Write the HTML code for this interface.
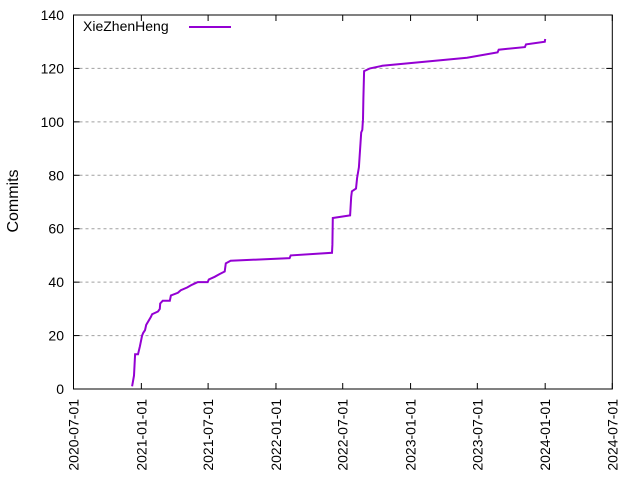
<!DOCTYPE html>
<html><head><meta charset="utf-8"><style>
html,body{margin:0;padding:0;background:#fff;}
svg{display:block;font-family:"Liberation Sans",sans-serif;}
</style></head><body>
<svg id="chart" width="640" height="480" viewBox="0 0 640 480" xmlns="http://www.w3.org/2000/svg">
<g id="grid"></g>
<g id="axes"></g>
<path id="line" fill="none" stroke="#9400d3" stroke-width="2" stroke-linejoin="miter"></path>
<rect x="73.5" y="15" width="538.8" height="374" fill="none" stroke="#000" stroke-width="1"></rect>
<text x="18" y="201" font-size="16" text-anchor="middle" transform="rotate(-90 18 201)">Commits</text>
<g>
<text x="83" y="31" font-size="14">XieZhenHeng</text>
<line x1="189" y1="27" x2="231" y2="27" stroke="#9400d3" stroke-width="2"></line>
</g>
</svg>
<script>
const dates=["2020-12-07","2020-12-12","2020-12-15","2020-12-23","2020-12-28","2021-01-03","2021-01-06","2021-01-11","2021-01-14","2021-01-27","2021-01-30","2021-02-15","2021-02-20","2021-02-21","2021-02-28","2021-03-19","2021-03-22","2021-04-10","2021-04-18","2021-05-05","2021-05-18","2021-06-03","2021-06-22","2021-06-30","2021-07-03","2021-07-19","2021-08-01","2021-08-15","2021-08-18","2021-08-31","2022-02-07","2022-02-10","2022-06-02","2022-06-03","2022-06-04","2022-07-21","2022-07-24","2022-07-26","2022-08-06","2022-08-09","2022-08-14","2022-08-20","2022-08-23","2022-08-25","2022-08-26","2022-08-28","2022-09-13","2022-10-16","2023-06-03","2023-08-25","2023-08-28","2023-11-07","2023-11-10","2023-12-31","2024-01-01"];
const commits=[1,5,13,13,16,20,21,22,24,27,28,29,30,32,33,33,35,36,37,38,39,40,40,40,41,42,43,44,47,48,49,50,51,54,64,65,72,74,75,79,83,96,97,101,109,119,120,121,124,126,127,128,129,130,131];
const xTicks=["2020-07-01","2021-01-01","2021-07-01","2022-01-01","2022-07-01","2023-01-01","2023-07-01","2024-01-01","2024-07-01"];
const yTicks=[0,20,40,60,80,100,120,140];
const L=73.5,R=612.3,T=15,B=389;
const t0=Date.parse("2020-07-01"),t1=Date.parse("2024-07-01");
const xs=d=>L+(Date.parse(d)-t0)/(t1-t0)*(R-L);
const ys=v=>B-v/140*(B-T);
const NS="http://www.w3.org/2000/svg";
const grid=document.getElementById('grid'),axes=document.getElementById('axes');
function mk(tag,attrs,parent){const e=document.createElementNS(NS,tag);for(const k in attrs)e.setAttribute(k,attrs[k]);parent.appendChild(e);return e;}
yTicks.forEach(v=>{const y=ys(v);
 if(v>0&&v<140){const g=mk('line',{x1:L,x2:R,y1:y,y2:y,stroke:'#a0a0a0','stroke-width':1,'stroke-dasharray':'3,3'},grid);
 
 }
 const t1_=mk('line',{x1:L,x2:L+6,y1:y,y2:y,stroke:'#000'},axes);
 
 
 const t2_=mk('line',{x1:R-6,x2:R,y1:y,y2:y,stroke:'#000'},axes);
 
 
 const tx=mk('text',{x:64,y:y+5,'font-size':14,'text-anchor':'end'},axes);tx.textContent=v;
 
 
});
xTicks.forEach(d=>{const x=xs(d);
 const a=mk('line',{x1:x,x2:x,y1:B,y2:B-6,stroke:'#000'},axes);
 
 
 const b=mk('line',{x1:x,x2:x,y1:T,y2:T+6,stroke:'#000'},axes);
 
 
 const tx=mk('text',{x:x+5,y:399,'font-size':14,'text-anchor':'end',transform:`rotate(-90 ${x+5} 399)`},axes);tx.textContent=d;
 
 
});
document.getElementById('line').setAttribute('d',dates.map((d,i)=>(i?'L':'M')+xs(d).toFixed(1)+' '+ys(commits[i]).toFixed(1)).join(' '));
</script>
</body></html>
